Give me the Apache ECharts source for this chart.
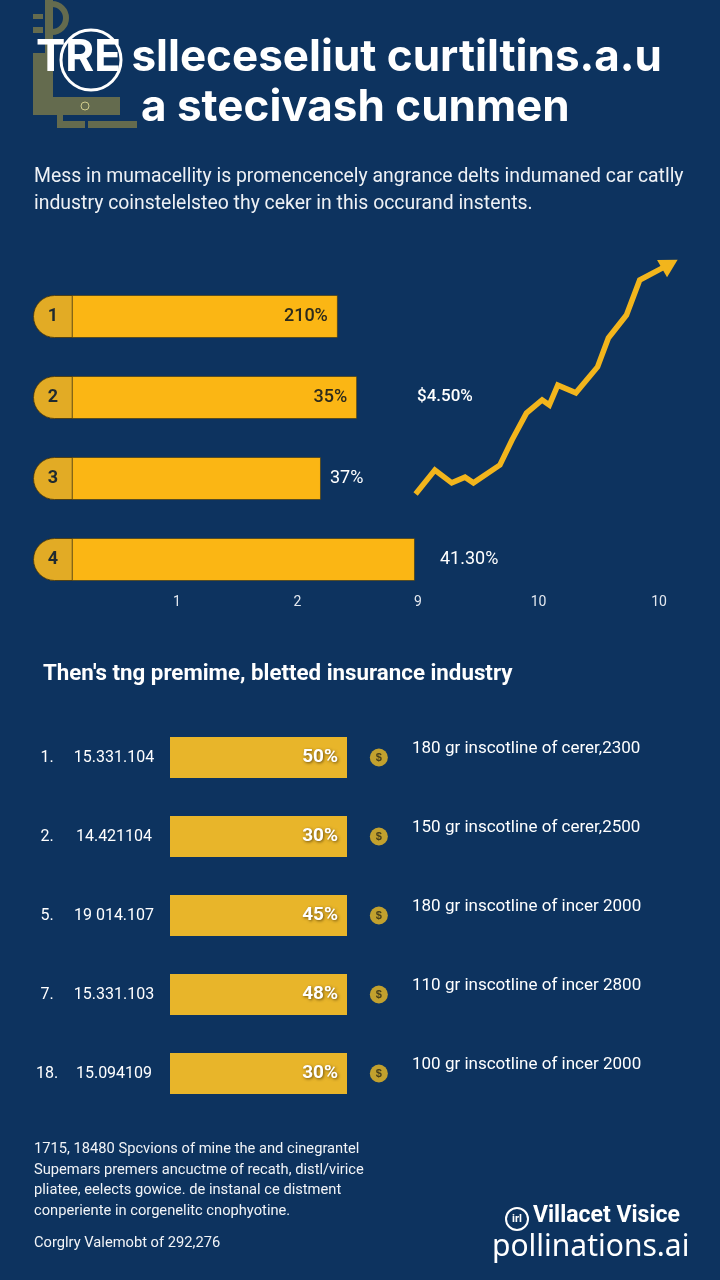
<!DOCTYPE html>
<html>
<head>
<meta charset="utf-8">
<title>Insurance infographic</title>
<script src="https://cdn.jsdelivr.net/npm/echarts@6/dist/echarts.min.js"></script>
<style>
html, body { margin: 0; padding: 0; background: #0d335f; }
#main { width: 720px; height: 1280px; }
</style>
</head>
<body>
<div id="main"></div>
<script>
// top ranking bars
var rankNames = ['1', '2', '3', '4'];
var rankValues = [2.53, 2.69, 2.39, 3.17];
var rankLabels = ['210%', '35%', '37%', '41.30%'];

// trend line (x on the 1..5 tick scale, y in percent of plot height)
var trendX = [2.98, 3.14, 3.28, 3.39, 3.46, 3.68, 3.78, 3.90, 4.03, 4.09, 4.16, 4.31, 4.49, 4.58, 4.73, 4.84, 5.03, 5.09];
var trendY = [27.6, 34.7, 30.9, 32.6, 30.9, 36.2, 43.6, 51.6, 55.5, 54.0, 59.9, 57.6, 65.3, 73.9, 80.7, 91.1, 94.7, 95.8];
var trendTicks = ['1', '2', '9', '10', '10'];
var trendNote = '$4.50%';

// premium list
var premNo = ['1.', '2.', '5.', '7.', '18.'];
var premCode = ['15.331.104', '14.421104', '19 014.107', '15.331.103', '15.094109'];
var premShare = ['50%', '30%', '45%', '48%', '30%'];
var premBar = [100, 100, 100, 100, 100];
var premText = [
  '180 gr inscotline of cerer,2300',
  '150 gr inscotline of cerer,2500',
  '180 gr inscotline of incer 2000',
  '110 gr inscotline of incer 2800',
  '100 gr inscotline of incer 2000'
];

var footLines = [
  '1715, 18480 Spcvions of mine the and cinegrantel',
  'Supemars premers ancuctme of recath, distl/virice',
  'pliatee, eelects gowice. de instanal ce distment',
  'conperiente in corgenelitc cnophyotine.'
];
var footNote = 'Corglry Valemobt of 292,276';

var NAVY = '#0d335f';
var GOLD = '#fbb614';
var GOLD_CAP = '#e2ab25';
var GOLD_SOFT = '#e8b52a';
var OLIVE = '#646b4e';
var CAP_W = 0.33;   // rounded cap at the left of the top bars
var COIN_X = 118;   // coin column, past the end of the lower bars

var chart = echarts.init(document.getElementById('main'));

var rankData = rankValues.map(function (v, i) {
  var inside = i < 2;
  return {
    value: v,
    label: {
      show: true,
      formatter: rankLabels[i],
      position: inside ? 'insideRight' : 'right',
      distance: inside ? 10 : (i == 2 ? 9 : 25),
      color: inside ? '#2c2a1c' : '#ffffff',
      fontSize: 18,
      fontFamily: 'Roboto',
      fontWeight: inside ? 500 : 400
    }
  };
});

var trendData = trendX.map(function (x, i) {
  var last = i == trendX.length - 1;
  if (!last) return [x, trendY[i]];
  return { value: [x, trendY[i]], symbol: 'triangle', symbolSize: [20, 18], symbolRotate: -60 };
});

var footText = footLines.map(function (t, i) {
  return {
    type: 'text', left: 34, top: 1142 + i * 20.5,
    style: { text: t, fill: '#f2f4f7', font: '14.7px Roboto' }
  };
});

var option = {
  backgroundColor: NAVY,
  animation: false,
  grid: [
    { left: 33, top: 276, width: 482, height: 324 },
    { left: 56.5, top: 250, width: 626.6, height: 337 },
    { left: 170, top: 718, width: 177, height: 395 }
  ],
  xAxis: [
    { gridIndex: 0, type: 'value', min: 0, max: 4, show: false },
    {
      gridIndex: 1, type: 'value', min: 0, max: 5.2, interval: 1,
      axisLine: { show: false }, axisTick: { show: false }, splitLine: { show: false },
      axisLabel: {
        color: '#e3e8ef', fontSize: 14, fontFamily: 'Roboto', margin: 8,
        formatter: function (v) {
          return (v >= 1 && v <= 5 && Math.round(v) == v) ? trendTicks[v - 1] : '';
        }
      }
    },
    { gridIndex: 2, type: 'value', min: 0, max: 100, show: false }
  ],
  yAxis: [
    { gridIndex: 0, type: 'category', inverse: true, data: rankNames, show: false },
    { gridIndex: 1, type: 'value', min: 0, max: 100, show: false },
    {
      gridIndex: 2, type: 'category', inverse: true, data: premCode,
      axisLine: { show: false }, axisTick: { show: false },
      axisLabel: {
        margin: 16,
        formatter: function (v, i) { return '{n|' + premNo[i] + '}{c|' + v + '}'; },
        rich: {
          n: { width: 20, align: 'right', color: '#ffffff', fontSize: 16, fontFamily: 'Roboto' },
          c: { width: 80, padding: [0, 0, 0, 17], align: 'left', color: '#ffffff', fontSize: 16, fontFamily: 'Roboto' }
        }
      }
    },
    {
      gridIndex: 2, type: 'category', inverse: true, position: 'right', data: premText,
      axisLine: { show: false }, axisTick: { show: false },
      axisLabel: {
        margin: 65, align: 'left', verticalAlign: 'bottom',
        color: '#ffffff', fontSize: 17, fontFamily: 'Roboto'
      }
    }
  ],
  series: [
    {
      type: 'bar', xAxisIndex: 0, yAxisIndex: 0, barWidth: 43,
      data: rankData,
      itemStyle: { color: GOLD, borderRadius: [22, 0, 0, 22], borderColor: 'rgba(50,45,20,0.55)', borderWidth: 1 }
    },
    {
      type: 'bar', xAxisIndex: 0, yAxisIndex: 0, barWidth: 43, barGap: '-100%',
      data: rankNames.map(function () { return CAP_W; }),
      itemStyle: { color: GOLD_CAP, borderRadius: [22, 0, 0, 22], borderColor: 'rgba(60,50,20,0.8)', borderWidth: 1 },
      label: {
        show: true, position: 'inside',
        formatter: function (p) { return rankNames[p.dataIndex]; },
        color: '#1f2a30', fontSize: 18, fontWeight: 'bold', fontFamily: 'Roboto'
      }
    },
    {
      type: 'line', xAxisIndex: 1, yAxisIndex: 1,
      data: trendData,
      symbol: 'none', showSymbol: true,
      lineStyle: { color: '#f2b51c', width: 5.5, join: 'miter' },
      itemStyle: { color: '#f2b51c' }
    },
    {
      type: 'bar', xAxisIndex: 2, yAxisIndex: 2, barWidth: 41,
      data: premBar,
      itemStyle: { color: GOLD_SOFT },
      label: {
        show: true, position: 'insideRight', distance: 9,
        formatter: function (p) { return premShare[p.dataIndex]; },
        color: '#ffffff', fontSize: 19, fontWeight: 'bold', fontFamily: 'Roboto',
        textShadowColor: 'rgba(60,40,0,0.7)', textShadowBlur: 3, textShadowOffsetX: 1, textShadowOffsetY: 1
      }
    },
    {
      type: 'scatter', xAxisIndex: 2, yAxisIndex: 2, clip: false,
      data: premBar.map(function (v, i) { return [COIN_X, i]; }),
      symbolSize: 18,
      itemStyle: { color: '#f0bd22' },
      label: {
        show: true, position: 'inside', formatter: '$',
        color: '#2a2816', fontSize: 11, fontWeight: 'bold'
      }
    }
  ],
  graphic: [
    // olive background icon behind title
    { type: 'rect', shape: { x: 45, y: 0, width: 8, height: 100 }, style: { fill: OLIVE } },
    { type: 'arc', shape: { cx: 52, cy: 18, r: 14, startAngle: -Math.PI / 2, endAngle: Math.PI / 2 }, style: { stroke: OLIVE, lineWidth: 6, fill: null } },
    { type: 'rect', shape: { x: 33, y: 14, width: 10, height: 5 }, style: { fill: OLIVE } },
    { type: 'rect', shape: { x: 33, y: 27, width: 10, height: 6 }, style: { fill: OLIVE } },
    { type: 'rect', shape: { x: 33, y: 53, width: 12, height: 44 }, style: { fill: OLIVE } },
    { type: 'rect', shape: { x: 33, y: 97, width: 87, height: 18 }, style: { fill: OLIVE } },
    { type: 'circle', shape: { cx: 85, cy: 106, r: 4 }, style: { stroke: '#cfcb8c', lineWidth: 1, fill: null } },
    { type: 'rect', shape: { x: 57, y: 113, width: 6, height: 15 }, style: { fill: OLIVE } },
    { type: 'rect', shape: { x: 57, y: 121, width: 28, height: 7 }, style: { fill: OLIVE } },
    { type: 'rect', shape: { x: 88, y: 121, width: 49, height: 7 }, style: { fill: OLIVE } },
    // title
    { type: 'circle', shape: { cx: 91, cy: 60, r: 30 }, style: { stroke: '#ffffff', lineWidth: 3, fill: null } },
    {
      type: 'text', left: 36, top: 36,
      style: { text: 'TRE slleceseliut curtiltins.a.u', fill: '#ffffff', font: 'bold 44px Inter' }
    },
    {
      type: 'text', left: 141, top: 86,
      style: { text: 'a stecivash cunmen', fill: '#ffffff', font: 'bold 44px Inter' }
    },
    {
      type: 'text', left: 34, top: 164,
      style: {
        text: 'Mess in mumacellity is promencencely angrance delts indumaned car catlly\nindustry coinstelelsteo thy ceker in this occurand instents.',
        fill: '#eef1f5', font: '19.4px Roboto', lineHeight: 27
      }
    },
    {
      type: 'text', left: 417, top: 388,
      style: { text: trendNote, fill: '#ffffff', font: '500 17px Roboto' }
    },
    {
      type: 'text', left: 43, top: 663,
      style: { text: "Then's tng premime, bletted insurance industry", fill: '#ffffff', font: 'bold 22.3px Roboto' }
    }
  ].concat(footText).concat([
    {
      type: 'text', left: 34, top: 1236,
      style: { text: footNote, fill: '#f2f4f7', font: '14.7px Roboto' }
    },
    // watermark
    { type: 'circle', shape: { cx: 517, cy: 1219, r: 11 }, style: { stroke: '#ffffff', lineWidth: 2, fill: null } },
    {
      type: 'text', x: 517, y: 1219,
      style: { text: 'irl', fill: '#ffffff', font: 'bold 11px Roboto', align: 'center', verticalAlign: 'middle' }
    },
    {
      type: 'text', left: 533, top: 1205,
      style: { text: 'Villacet Visice', fill: '#ffffff', font: 'bold 23px Roboto' }
    },
    {
      type: 'text', left: 492, top: 1232,
      style: { text: 'pollinations.ai', fill: '#ffffff', font: '30px "Noto Sans"' }
    }
  ])
};

chart.setOption(option);
</script>
</body>
</html>
